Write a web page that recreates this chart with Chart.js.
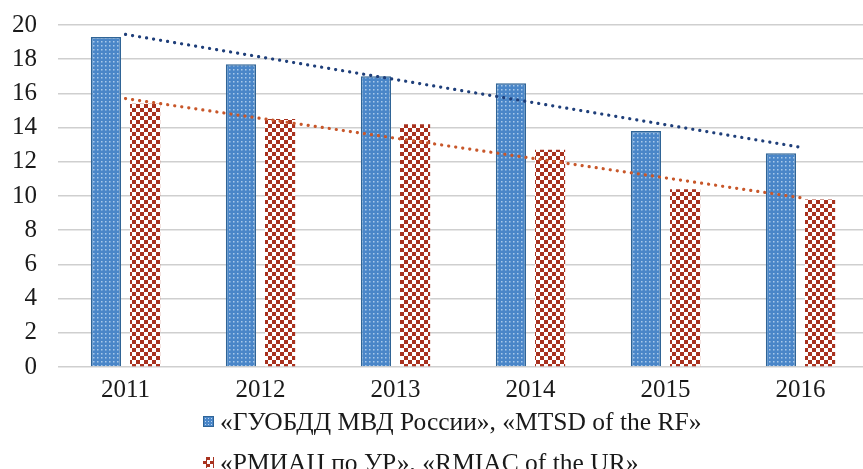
<!DOCTYPE html>
<html>
<head>
<meta charset="utf-8">
<script src="https://cdn.jsdelivr.net/npm/chart.js@4"></script>
<style>
  html, body { margin: 0; padding: 0; background: #fff; overflow: hidden; }
  #wrap { position: relative; width: 868px; height: 469px; }
  #legend { position: absolute; left: 0; top: 0; width: 863px; height: 469px; pointer-events: none;
            font-family: "Liberation Serif", "Times New Roman", serif; font-size: 25.5px; color: #1a1a1a; }
  .item { position: absolute; left: 203px; white-space: nowrap; display: flex; align-items: center; line-height: 29px; }
  .box { width: 11px; height: 11px; margin-right: 6px; }
  .b1 { background-color: #4a86c8; border: 1px solid #2f6496; box-sizing: border-box;
        background-image: radial-gradient(circle, #b9d3ee 0.8px, transparent 1px); background-size: 3px 3px; }
  .b2 { background-color: #fff;
        background-image: conic-gradient(#a8321f 25%, transparent 0 50%, #a8321f 0 75%, transparent 0);
        background-size: 7px 7px; }
</style>
</head>
<body>
<div id="wrap">
  <canvas id="c" width="868" height="469"></canvas>
  <div id="legend">
    <div class="item" id="l1" style="top:407px;"><span class="box b1"></span><span id="t1"></span></div>
    <div class="item" id="l2" style="top:448px;"><span class="box b2"></span><span id="t2"></span></div>
  </div>
</div>
<script>
const categories = ["2011", "2012", "2013", "2014", "2015", "2016"];
const seriesNames = ["«ГУОБДД МВД России», «MTSD of the RF»", "«РМИАЦ по УР», «RMIAC of the UR»"];
const mtsdValues = [19.3, 17.7, 17.0, 16.6, 13.8, 12.5];
const rmiacValues = [15.4, 14.5, 14.2, 12.7, 10.4, 9.8];
// trendline ends (straight line between first and last year)
const mtsdTrend = [19.45, null, null, null, null, 12.85];
const rmiacTrend = [15.7, null, null, null, null, 9.9];
const yTicks = [0, 2, 4, 6, 8, 10, 12, 14, 16, 18, 20];

document.getElementById('t1').textContent = seriesNames[0];
document.getElementById('t2').textContent = seriesNames[1];

function dotPattern() {
  const c = document.createElement('canvas');
  c.width = 4; c.height = 4;
  const x = c.getContext('2d');
  x.fillStyle = '#4a86c8';
  x.fillRect(0, 0, 4, 4);
  x.fillStyle = '#a9c9ea';
  x.fillRect(1, 1, 1.5, 1.5);
  return x.createPattern(c, 'repeat');
}
function checkerPattern() {
  const c = document.createElement('canvas');
  c.width = 8; c.height = 8;
  const x = c.getContext('2d');
  x.fillStyle = '#ffffff';
  x.fillRect(0, 0, 8, 8);
  x.fillStyle = '#a8321f';
  x.fillRect(0, 0, 4, 4);
  x.fillRect(4, 4, 4, 4);
  return x.createPattern(c, 'repeat');
}

const serif = "'Liberation Serif', 'Times New Roman', serif";

new Chart(document.getElementById('c'), {
  type: 'bar',
  data: {
    labels: categories,
    datasets: [
      { type: 'line', label: 'trend1', data: mtsdTrend, spanGaps: true, borderColor: '#1f3f7a',
        borderWidth: 3.2, borderDash: [0.1, 7], borderCapStyle: 'round', pointRadius: 0, fill: false, order: 0 },
      { type: 'line', label: 'trend2', data: rmiacTrend, spanGaps: true, borderColor: '#c8572a',
        borderWidth: 3.2, borderDash: [0.1, 7], borderCapStyle: 'round', pointRadius: 0, fill: false, order: 0 },
      { label: seriesNames[0], data: mtsdValues, backgroundColor: dotPattern(), borderColor: '#2f6496',
        borderWidth: 1.5, barPercentage: 0.77, categoryPercentage: 0.58, order: 1 },
      { label: seriesNames[1], data: rmiacValues, backgroundColor: checkerPattern(), borderWidth: 0,
        barPercentage: 0.77, categoryPercentage: 0.58, order: 1 }
    ]
  },
  options: {
    responsive: false,
    animation: false,
    layout: { padding: { left: 4, top: 3, right: 0, bottom: 56 } },
    plugins: { legend: { display: false }, tooltip: { enabled: false } },
    scales: {
      x: {
        grid: { display: false, drawTicks: false },
        border: { display: false },
        ticks: { font: { family: serif, size: 25 }, color: '#1a1a1a', padding: 8 },
        afterFit: (axis) => { axis.paddingLeft = 0; axis.paddingRight = 0; }
      },
      y: {
        min: 0, max: 20,
        afterBuildTicks: (axis) => { axis.ticks = yTicks.map(v => ({ value: v })); },
        afterFit: (axis) => { axis.width = 54; axis.paddingTop = 25; },
        grid: { color: '#cfcfcf', lineWidth: 1.6, drawTicks: false },
        border: { display: false },
        ticks: { font: { family: serif, size: 25 }, color: '#1a1a1a', padding: 21 }
      }
    }
  }
});
</script>
</body>
</html>
